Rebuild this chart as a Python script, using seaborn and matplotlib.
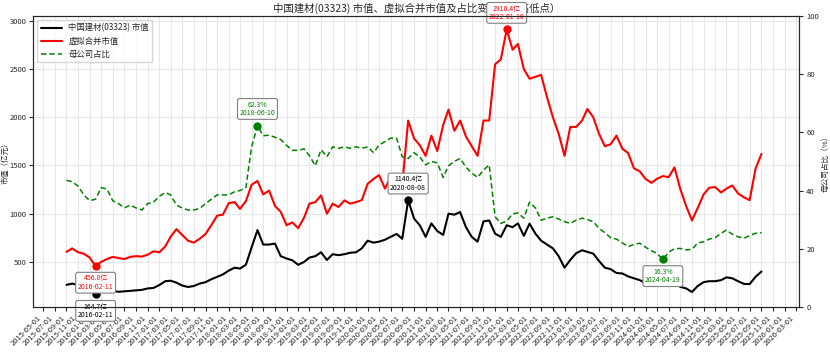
# 中国建材(03323) 市值、虚拟合并市值及母公司占比

import pandas as pd
import matplotlib
matplotlib.use("Agg")
import matplotlib.pyplot as plt
import matplotlib.dates as mdates
import seaborn as sns

# Monthly readings, 2015-09 .. 2025-09
months = pd.date_range("2015-09-01", periods=121, freq="MS")

# 中国建材 市值 (亿元)
market_cap = [
    262, 275, 260, 235,
    210, 164.7, 200, 195, 200, 190, 195, 200, 205, 210, 225, 230,
    260, 300, 305, 285, 255, 240, 250, 275, 290, 320, 345, 370,
    410, 440, 431, 470, 650, 830, 680, 680, 690, 560, 535, 517,
    470, 500, 545, 560, 600, 520, 580, 570, 580, 595, 600, 640,
    720, 700, 710, 730, 760, 790, 740, 1140.4, 950, 880, 760, 900,
    820, 780, 1000, 990, 1017, 860, 760, 710, 920, 930, 793, 760,
    880, 860, 900, 770, 897, 793, 720, 680, 640, 560, 440, 520,
    590, 621, 604, 586, 510, 440, 425, 385, 380, 350, 330, 311,
    280, 250, 255, 250, 265, 280, 242, 225, 188, 250, 290, 300,
    300, 311, 340, 330, 300, 272, 270, 345, 400,
]

# 虚拟合并市值 (亿元)
virtual_cap = [
    604, 640, 600, 585,
    545, 456.8, 500, 530, 552, 540, 530, 552, 560, 555, 575, 610,
    600, 660, 760, 840, 780, 720, 700, 740, 790, 880, 980, 990,
    1110, 1120, 1050, 1130, 1300, 1340, 1200, 1240, 1080, 1020, 880, 910,
    850, 960, 1104, 1120, 1190, 1000, 1104, 1069, 1138, 1104, 1120, 1140,
    1310, 1360, 1400, 1260, 1379, 1380, 1300, 1966, 1780, 1710, 1600, 1810,
    1650, 1920, 2080, 1860, 1966, 1800, 1700, 1600, 1966, 1966, 2550, 2600,
    2910.4, 2700, 2760, 2500, 2400, 2420, 2440, 2207, 2000, 1830, 1600, 1900,
    1900, 1966, 2086, 2000, 1830, 1700, 1720, 1810, 1673, 1630, 1470, 1440,
    1360, 1320, 1362, 1390, 1379, 1480, 1260, 1080, 930, 1060, 1200, 1270,
    1276, 1220, 1260, 1293, 1210, 1170, 1140, 1466, 1620,
]

# 母公司占比 (%)
parent_share = [
    43.5, 43.0, 41.5, 38.5,
    36.5, 37.0, 41.0, 40.5, 36.5, 35.5, 34.0, 35.0, 34.0, 33.3, 35.5, 36.0,
    38.0, 39.3, 38.5, 35.0, 34.0, 33.3, 33.3, 33.8, 35.5, 37.0, 38.5, 38.5,
    38.5, 39.6, 40.0, 41.0, 55.0, 62.3, 58.8, 59.0, 58.3, 57.5, 55.5, 53.8,
    53.8, 54.3, 52.0, 48.5, 54.0, 51.6, 55.0, 54.5, 55.0, 54.5, 55.0, 54.5,
    55.0, 53.0, 55.6, 56.8, 58.0, 58.0, 51.6, 51.0, 53.0, 51.5, 48.8, 50.0,
    49.5, 44.5, 48.5, 50.0, 51.0, 48.0, 46.0, 44.5, 47.0, 48.8, 31.0, 28.7,
    29.5, 32.0, 32.3, 30.5, 36.0, 34.0, 29.8, 30.5, 31.0, 30.2, 29.3, 28.7,
    29.8, 30.5, 30.0, 29.3, 27.0, 25.5, 23.8, 23.3, 22.0, 20.7, 21.5, 21.9,
    20.5, 19.3, 18.4, 16.3, 18.8, 20.0, 20.1, 19.6, 19.8, 22.0, 22.4, 23.3,
    23.8, 25.3, 26.4, 25.0, 24.1, 23.6, 24.5, 25.3, 25.5,
]

df = pd.DataFrame({"date": months, "cap": market_cap,
                   "virtual": virtual_cap, "share": parent_share})

# Style
sns.set_style("ticks", {"axes.grid": True, "grid.color": "#e8e8e8"})
plt.rcParams['font.family'] = ['Noto Sans CJK SC', 'DejaVu Sans']
plt.rcParams['axes.unicode_minus'] = False

fig, ax = plt.subplots(figsize=(8.3, 3.52), dpi=100)
fig.subplots_adjust(left=0.04, right=0.963, top=0.955, bottom=0.128)
ax2 = ax.twinx()

sns.lineplot(x="date", y="cap", data=df, ax=ax, color="black", lw=1.5,
             label="中国建材(03323) 市值")
sns.lineplot(x="date", y="virtual", data=df, ax=ax, color="red", lw=1.5,
             label="虚拟合并市值")
sns.lineplot(x="date", y="share", data=df, ax=ax2, color="green", lw=1.1,
             linestyle=(0, (3.5, 2)), label="母公司占比")


# High / low markers with boxed labels
def mark(axis, col, fmt, date_txt, color, above, pick):
    idx = df[col].idxmax() if pick == "max" else df[col].idxmin()
    x, y = df.loc[idx, "date"], df.loc[idx, col]
    axis.plot(x, y, "o", color=color, ms=5, zorder=5)
    axis.annotate(f"{fmt.format(y)}\n{date_txt}", (x, y),
                  xytext=(0, 6 if above else -6), textcoords="offset points",
                  ha="center", va="bottom" if above else "top",
                  fontsize=5, color=color, linespacing=1.1,
                  annotation_clip=False, zorder=10,
                  bbox=dict(boxstyle="round,pad=0.3", fc="white", ec="gray", lw=0.8))


mark(ax, "cap", "{:.1f}亿", "2020-08-08", "black", True, "max")
mark(ax, "cap", "{:.1f}亿", "2016-02-11", "black", False, "min")
mark(ax, "virtual", "{:.1f}亿", "2022-01-10", "red", True, "max")
mark(ax, "virtual", "{:.1f}亿", "2016-02-11", "red", False, "min")
mark(ax2, "share", "{:.1f}%", "2018-06-10", "green", True, "max")
mark(ax2, "share", "{:.1f}%", "2024-04-19", "green", False, "min")

# Axes
ax.set_xlim(pd.Timestamp("2015-03-10"), pd.Timestamp("2026-03-19"))
ax.set_ylim(33, 3052)
ax.set_yticks(range(500, 3001, 500))
ax2.set_ylim(0, 100)
ax2.set_yticks(range(0, 101, 20))
ax2.grid(False)

ax.xaxis.set_major_locator(mdates.MonthLocator(bymonth=[1, 3, 5, 7, 9, 11]))
ax.xaxis.set_major_formatter(mdates.DateFormatter("%Y-%m-%d"))
plt.setp(ax.get_xticklabels(), rotation=45, ha="right", fontsize=5.5)
ax.tick_params(axis="y", labelsize=5.5, length=3, pad=2)
ax.tick_params(axis="x", length=3, pad=2)
ax2.tick_params(axis="y", labelsize=5.5, length=3, pad=2)

ax.set_xlabel("")
ax.set_ylabel("市值（亿元）", fontsize=5.5)
ax.yaxis.set_label_coords(-0.031, 0.5)
ax2.set_xlabel("")
ax2.set_ylabel("母公司占比（%）", fontsize=5.5)
ax2.yaxis.set_label_coords(1.029, 0.5)
ax.set_title("中国建材(03323) 市值、虚拟合并市值及占比变化（含高低点）", fontsize=7.5, pad=3)

# One legend for both axes
h1, l1 = ax.get_legend_handles_labels()
h2, l2 = ax2.get_legend_handles_labels()
ax.get_legend().remove()
ax2.get_legend().remove()
ax2.legend(h1 + h2, l1 + l2, loc="upper left", fontsize=6, frameon=True,
           fancybox=False, edgecolor="#cccccc", handlelength=2.5)

plt.savefig("out.png", dpi=100)
